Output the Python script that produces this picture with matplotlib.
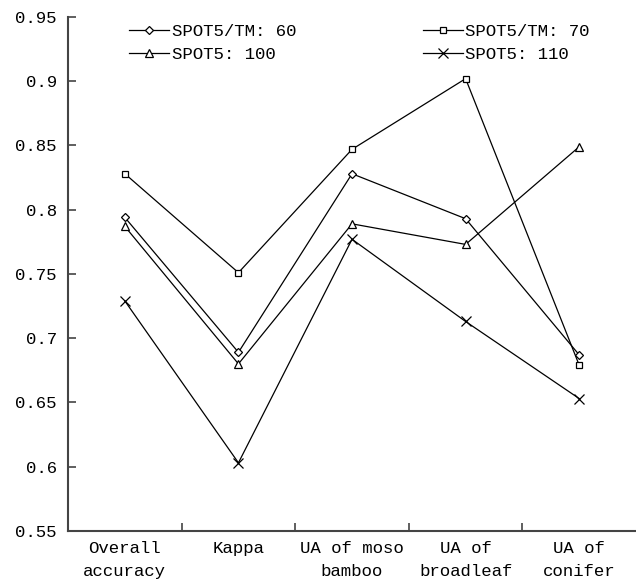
import matplotlib
matplotlib.use('Agg')
import matplotlib.pyplot as plt
from matplotlib.ticker import FixedLocator, FormatStrFormatter

# 分类与数据
categories = ['Overall\naccuracy', 'Kappa', 'UA of moso\nbamboo', 'UA of\nbroadleaf', 'UA of\nconifer']
spot_tm_60 = [0.794, 0.689, 0.828, 0.793, 0.687]
spot_tm_70 = [0.828, 0.751, 0.847, 0.902, 0.679]
spot5_100 = [0.787, 0.680, 0.789, 0.773, 0.849]
spot5_110 = [0.729, 0.603, 0.777, 0.713, 0.653]

# 图例按列填充：第一列 60/100，第二列 70/110
series = [
    ('SPOT5/TM: 60', spot_tm_60, 'D', 4),
    ('SPOT5: 100', spot5_100, '^', 6),
    ('SPOT5/TM: 70', spot_tm_70, 's', 5),
    ('SPOT5: 110', spot5_110, 'x', 7),
]

plt.rcParams['font.family'] = ['Liberation Mono', 'DejaVu Sans Mono']
plt.rcParams['font.size'] = 12.5

fig = plt.figure(figsize=(6.36, 5.86), dpi=100)
ax = fig.add_axes([0.107, 0.094, 0.893, 0.877])

x = list(range(len(categories)))
for label, vals, marker, ms in series:
    ax.plot(x, vals, color='black', linewidth=0.9, marker=marker, markersize=ms,
            markerfacecolor='white', markeredgecolor='black', markeredgewidth=0.9,
            label=label)

ax.set_xlim(-0.5, 4.5)
ax.set_ylim(0.55, 0.95)
ax.set_yticks([0.55, 0.6, 0.65, 0.7, 0.75, 0.8, 0.85, 0.9, 0.95])
ax.yaxis.set_major_formatter(FormatStrFormatter('%g'))

# 类别标签放在中间，刻度线放在分界处
ax.set_xticks(x)
ax.set_xticklabels(categories, linespacing=1.7)
ax.xaxis.set_minor_locator(FixedLocator([0.5, 1.5, 2.5, 3.5]))
ax.tick_params(axis='x', which='major', length=0, pad=7)
ax.tick_params(axis='x', which='minor', direction='in', length=6, width=1.2, color='#444444')
ax.tick_params(axis='y', direction='in', length=6, width=1.2, color='#444444', pad=8)

for side in ['top', 'right']:
    ax.spines[side].set_visible(False)
for side in ['left', 'bottom']:
    ax.spines[side].set_color('#444444')
    ax.spines[side].set_linewidth(1.5)

ax.legend(loc='upper left', bbox_to_anchor=(0.086, 1.01), ncol=2, frameon=False,
          handlelength=2.3, handletextpad=0.15, columnspacing=7.3,
          labelspacing=0.45, borderaxespad=0.3)

fig.savefig('out.png', dpi=100)
